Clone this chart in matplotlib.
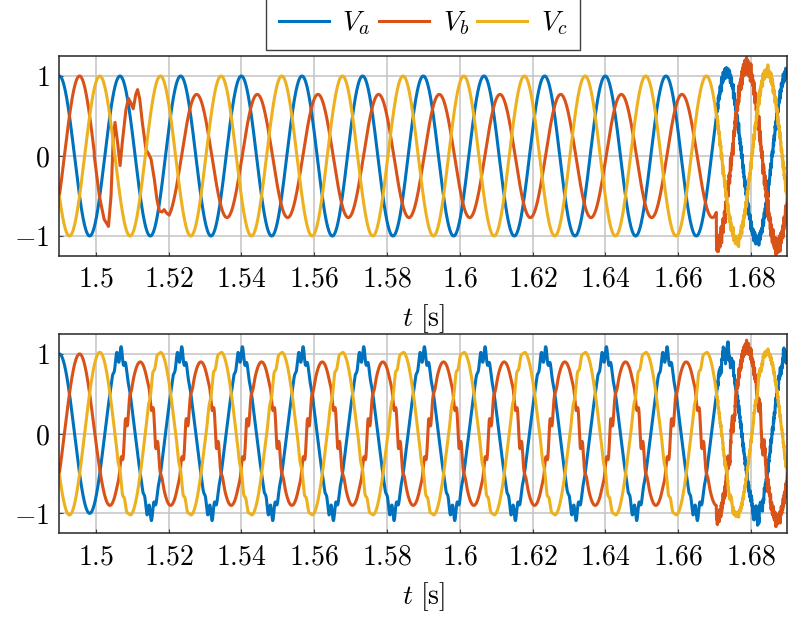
import numpy as np
import matplotlib
matplotlib.use('Agg')
import matplotlib.pyplot as plt
from matplotlib.ticker import FuncFormatter

plt.rcParams['mathtext.fontset'] = 'cm'
plt.rcParams['font.family'] = ['DejaVu Serif']

# ---- values ----
F_GRID = 60.0          # Hz
T_START, T_END = 1.49, 1.69
phase_deg = [0, -120, 120]                 # Va, Vb, Vc
names = ['$V_a$', '$V_b$', '$V_c$']
colors = ['#0072BD', '#D95319', '#EDB120']

# top panel: Vb before fault / after fault / noisy end
top_fault_start = 1.4996
top_fault_end = 1.5202
top_noise_start = 1.6705
top_amp_mid = [1.0, 0.77, 1.0]
top_lead_mid = [0, 25, 0]                  # deg
top_amp_end = [1.05, 1.13, 1.06]

# top Vb fault transient (t, value)
vb_fault_t = [1.4996, 1.5010, 1.5023, 1.5035, 1.5042, 1.5048, 1.5053, 1.5060,
              1.5067, 1.5073, 1.5083, 1.5090, 1.5096, 1.5103, 1.5110, 1.5115,
              1.5121, 1.5128, 1.5138, 1.5145, 1.5152, 1.5161, 1.5168, 1.5175,
              1.5182, 1.5188, 1.5194, 1.5202]
vb_fault_v = [0.0, -0.50, -0.79, -0.88, -0.50, 0.21, 0.42, 0.17,
              -0.12, 0.17, 0.58, 0.72, 0.67, 0.59, 0.77, 0.83,
              0.71, 0.42, 0.08, 0.03, -0.04, -0.29, -0.54, -0.69,
              -0.70, -0.67, -0.71, -0.74]

# bottom panel
bot_vb_change = 1.4997
bot_amp_mid = [1.0, 0.9, 1.02]
bot_amp_end = [1.03, 1.08, 1.02]
bot_ripple_start = 1.5025
ripple_order = 13
ripple_amp = [0.10, 0.15, 0.05]
ripple_shift = [0, 40, 90]                 # deg
ripple_center = [0, 30, 10]                # deg of Va angle
ripple_power = [4, 8, 6]

# high-frequency measurement noise at the end (deterministic components)
noise_freq = [2310, 3170, 4430, 5890, 7270, 9130, 11270]
noise_amp = [0.025, 0.02, 0.02, 0.018, 0.015, 0.014, 0.012]
noise_scale_top = [0.9, 1.5, 0.9]
noise_scale_bot = [0.8, 1.1, 0.5]

xticks = [1.5, 1.52, 1.54, 1.56, 1.58, 1.6, 1.62, 1.64, 1.66, 1.68]
yticks = [-1, 0, 1]

t = np.linspace(T_START, T_END, 10001)
theta = 2 * np.pi * F_GRID * (t - T_START)


def wave(amp, shift):
    return amp * np.cos(theta + np.deg2rad(shift))


def noise(k, scale):
    out = np.zeros_like(t)
    for j, (f, a) in enumerate(zip(noise_freq, noise_amp)):
        out += a * np.sin(2 * np.pi * f * t + 1.7 * j + 2.3 * k)
    return scale * out


# ---- top panel series ----
top = []
for k in range(3):
    v = wave(1.0, phase_deg[k])
    mid = (t >= top_fault_end) & (t < top_noise_start)
    v[mid] = wave(top_amp_mid[k], phase_deg[k] + top_lead_mid[k])[mid]
    end = t >= top_noise_start
    v[end] = (wave(top_amp_end[k], phase_deg[k]) + noise(k, noise_scale_top[k]))[end]
    top.append(v)

# Vb: splice the transient points in
pre = t < top_fault_start
post = t >= top_fault_end
vb_t = np.concatenate([t[pre], vb_fault_t, t[post]])
vb_v = np.concatenate([top[1][pre], vb_fault_v, top[1][post]])
top_t = [t, vb_t, t]
top_v = [top[0], vb_v, top[2]]

# ---- bottom panel series ----
bot = []
for k in range(3):
    if k == 1:
        v = wave(1.0, phase_deg[k])
        v[t >= bot_vb_change] = wave(bot_amp_mid[k], phase_deg[k])[t >= bot_vb_change]
    else:
        v = wave(bot_amp_mid[k], phase_deg[k])
    end = t >= top_noise_start
    v[end] = (wave(bot_amp_end[k], phase_deg[k]) + noise(k + 5, noise_scale_bot[k]))[end]
    env = np.cos(theta - np.deg2rad(ripple_center[k])) ** ripple_power[k]
    env[t < bot_ripple_start] = 0
    v = v + ripple_amp[k] * env * np.sin(ripple_order * theta + np.deg2rad(ripple_shift[k]))
    bot.append(v)

# ---- figure ----
fig = plt.figure(figsize=(7.88, 6.25), dpi=100)
ax1 = fig.add_axes([0.0753, 0.5904, 0.9238, 0.3200])
ax2 = fig.add_axes([0.0753, 0.1467, 0.9238, 0.3189])

fmt = FuncFormatter(lambda v, p: '$%g$' % round(v, 2))
handles = []
for ax, xs, ys in [(ax1, top_t, top_v), (ax2, [t, t, t], bot)]:
    for k in range(3):
        h, = ax.plot(xs[k], ys[k], color=colors[k], lw=2.2, solid_joinstyle='round')
        if ax is ax1:
            handles.append(h)
    ax.set_xlim(T_START, T_END)
    ax.set_ylim(-1.25, 1.25)
    ax.set_xticks(xticks)
    ax.set_yticks(yticks)
    ax.xaxis.set_major_formatter(fmt)
    ax.yaxis.set_major_formatter(fmt)
    ax.tick_params(labelsize=20, direction='in', length=3, color='#404040', pad=7)
    ax.grid(True, color='#c4c4c4', lw=1.1)
    ax.set_axisbelow(True)
    for s in ax.spines.values():
        s.set_color('#262626')
        s.set_linewidth(1.1)
    ax.set_xlabel('$t\\ [\\mathrm{s}]$', fontsize=20, labelpad=7)

fig.legend(handles, names, loc='lower center', bbox_to_anchor=(0.537, 1 - 50 / 625),
           ncol=3, fontsize=20, frameon=True, fancybox=False, edgecolor='#404040',
           handlelength=1.8, handletextpad=0.5, columnspacing=0.3, borderpad=0.45,
           framealpha=1, borderaxespad=0)

fig.savefig('out.png', dpi=100)
